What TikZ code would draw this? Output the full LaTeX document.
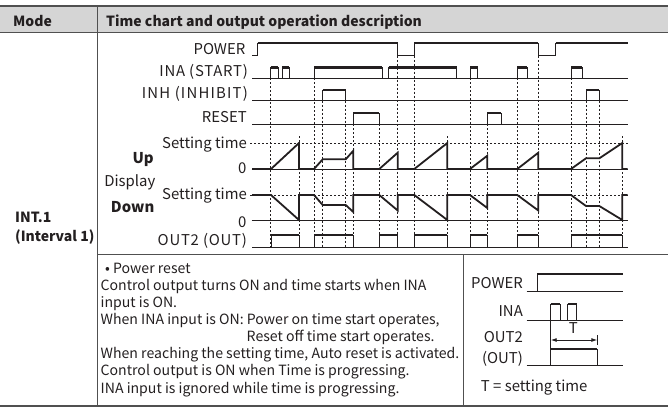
\documentclass[tikz,border=0pt]{standalone}
\usepackage{fontspec}
\setmainfont{Noto Sans CJK KR}
\usetikzlibrary{arrows.meta}
\definecolor{ink}{HTML}{231F20}
\definecolor{hdr}{HTML}{D5D5D5}
\definecolor{rulec}{HTML}{505050}
\newcommand\pulserow[3]{%
  \draw[base] (252,#1) -- (627.5,#1);
  \foreach \a/\b in {#3} {\draw[base] (\a,#1) -- (\a,#2) -- (\b,#2) -- (\b,#1); \draw[hi] (\a,#2) -- (\b,#2);}
}
\begin{document}
\begin{tikzpicture}[x=1pt,y=-1pt,
  lbl/.style={font=\fontsize{14.9}{18}\selectfont, text=ink, inner sep=0pt, anchor=base east},
  wlbl/.style={lbl, font=\fontsize{14.9}{18}\selectfont\addfontfeatures{LetterSpace=5}},
  xlbl/.style={lbl, font=\fontsize{14.9}{18}\selectfont\addfontfeatures{LetterSpace=8}},
  txt/.style={font=\fontsize{14.1}{18}\selectfont, text=ink, inner sep=0pt, anchor=base west},
  hd/.style={font=\fontsize{14}{18}\selectfont\bfseries, text=ink, inner sep=0pt, anchor=base west},
  base/.style={draw=ink, line width=0.9pt},
  hi/.style={draw=ink, line width=2.3pt},
  sig/.style={draw=ink, line width=1.8pt, line join=miter},
  dsh/.style={draw=ink, line width=0.8pt, dash pattern=on 2pt off 2pt},
  tbl/.style={draw=rulec, line width=1pt}]
\useasboundingbox (0,0) rectangle (668,416);
% ---------- table ----------
\fill[hdr] (0,6) rectangle (668,32);
\draw[tbl, line width=1.4pt] (0,6) -- (668,6);
\draw[tbl] (0,32) -- (668,32);
\draw[tbl] (97,6) -- (97,406);
\draw[tbl] (97,254) -- (668,254);
\draw[tbl] (463.5,254) -- (463.5,406);
\draw[tbl, line width=1.4pt] (0,406) -- (668,406);
\node[hd] (mode) at (13,26) {Mode};
\node[hd] (tch) at (106,26) {Time chart and output operation description};
\node[hd] (int1) at (15,222.5) {INT.1};
\node[hd] (int1b) at (15,241) {(Interval 1)};
% ---------- chart labels ----------
\node[lbl] (pw) at (245.5,54.5) {POWER};
\node[wlbl] (ina) at (248,76) {INA (START)};
\node[xlbl] (inh) at (248,98.5) {INH (INHIBIT)};
\node[lbl] (rst) at (247,122) {RESET};
\node[lbl] (stu) at (247,148) {Setting time};
\node[lbl] (zu) at (246.5,173.5) {0};
\node[lbl] (up) at (154,163) {\bfseries Up};
\node[lbl] (disp) at (155.5,186) {Display};
\node[lbl] (std) at (247,199.5) {Setting time};
\node[lbl] (dn) at (154.5,212) {\bfseries Down};
\node[lbl] (zd) at (246.5,227) {0};
\node[wlbl] (out) at (247,245.5) {OUT2 (OUT)};
% ---------- dashed guides ----------
\foreach \x/\y in {270.7/78, 299/136, 314/78, 322.7/100.5, 345.7/100.5, 353.3/124, 379.3/124,
  397.7/55.5, 414.3/55.5, 447.3/136, 470/78, 487.3/124, 517.3/78, 538.3/55.5, 571/78,
  586/100.5, 599.3/100.5, 622.3/136}
  \draw[dsh] (\x,\y) -- (\x,247);
\draw[dsh] (250,143) -- (627.5,143);
\draw[dsh] (250,195) -- (627.5,195);
% ---------- POWER ----------
\draw[base] (252,55.5) -- (257.7,55.5) -- (257.7,43) -- (397.7,43) -- (397.7,55.5) -- (414.3,55.5)
  -- (414.3,43) -- (538.3,43) -- (538.3,55.5) -- (555.7,55.5) -- (555.7,43) -- (627.5,43);
\draw[hi] (257.7,43) -- (397.7,43) (414.3,43) -- (538.3,43) (555.7,43) -- (627.5,43);
% ---------- inputs ----------
\pulserow{78}{67.5}{270.7/278.3, 282.3/289.3, 314/382, 388.7/456.7, 470/477.7, 517.3/527.3, 571/582.3}
\pulserow{100.5}{90}{322.7/345.7, 586/599.3}
\pulserow{124}{113}{353.3/379.3, 487.3/501}
% ---------- Up display ----------
\draw[base] (251.7,169) -- (627.5,169);
\draw[sig] (252,169) -- (271,169) -- (299,143) -- (299,169) -- (314,169) -- (322.7,159.3)
  -- (345.7,159.3) -- (353.3,150.7) -- (353.3,169) -- (379.3,169) -- (397.7,152.7) -- (397.7,169)
  -- (414.3,169) -- (447.3,143) -- (447.3,169) -- (470,169) -- (487.3,155.7) -- (487.3,169)
  -- (517.3,169) -- (538.3,152.7) -- (538.3,169) -- (571,169) -- (586,158.3) -- (599.3,158.3)
  -- (622.3,143) -- (622.3,169) -- (627.5,169);
% ---------- Down display ----------
\draw[base] (251.7,220) -- (627.5,220);
\draw[sig] (252,195) -- (271,195) -- (299,220) -- (299,195) -- (314,195) -- (322.7,205)
  -- (345.7,205) -- (353.3,212) -- (353.3,195) -- (379.3,195) -- (397.7,210.5) -- (397.7,195)
  -- (414.3,195) -- (447.3,220) -- (447.3,195) -- (470,195) -- (487.3,208) -- (487.3,195)
  -- (517.3,195) -- (538.3,210.5) -- (538.3,195) -- (571,195) -- (586,206) -- (599.3,206)
  -- (622.3,220) -- (622.3,195) -- (627.5,195);
% ---------- OUT2 ----------
\pulserow{247}{235}{271/299, 314/353.3, 379.3/397.7, 414.3/447.3, 470/487.3, 517.3/538.3, 571/622.3}
% ---------- description ----------
\node[txt] (d1) at (105,273.3) {• Power reset};
\node[txt] (d2) at (100.5,290.4) {Control output turns ON and time starts when INA};
\node[txt] (d3) at (100.5,307.5) {input is ON.};
\node[txt] (d4) at (100.5,324.6) {When INA input is ON: Power on time start operates,};
\node[txt] (d5) at (246.5,341.7) {Reset off time start operates.};
\node[txt] (d6) at (100.5,358.8) {When reaching the setting time, Auto reset is activated.};
\node[txt] (d7) at (100.5,375.9) {Control output is ON when Time is progressing.};
\node[txt] (d8) at (100.5,393) {INA input is ignored while time is progressing.};
% ---------- small chart ----------
\node[lbl] (spw) at (523,288.5) {POWER};
\node[lbl] (sina) at (523,316.5) {INA};
\node[lbl] (sout) at (523,342.3) {OUT2};
\node[lbl] (sout2) at (523,363.3) {(OUT)};
\node[txt, font=\fontsize{14.9}{18}\selectfont] (tdef) at (480.7,391.7) {T = setting time};
\draw[base] (526.7,291.7) -- (623.3,291.7);
\draw[base] (537.3,291.7) -- (537.3,274);
\draw[hi] (537.3,274) -- (623.3,274);
\draw[base] (526.7,320) -- (623.3,320);
\foreach \a/\b in {550.7/560, 567.7/576.7} {\draw[base] (\a,320) -- (\a,304) -- (\b,304) -- (\b,320); \draw[hi] (\a,304) -- (\b,304);}
\draw[base] (526.7,365.7) -- (623.3,365.7);
\draw[base] (550.7,304) -- (550.7,365.7);
\draw[base] (597.3,365.7) -- (597.3,349.3);
\draw[hi] (550.7,349.3) -- (597.3,349.3);
\draw[base] (597.3,335) -- (597.3,345);
\coordinate (ta) at (550.7,340);
\coordinate (tb) at (597.3,340);
\draw[base, {Latex[length=6pt,width=4pt]}-{Latex[length=6pt,width=4pt]}] (ta) -- (tb);
\node[font=\fontsize{14.9}{18}\selectfont, text=ink, inner sep=0pt, anchor=base] (tl) at (573.3,333.3) {T};
\end{tikzpicture}
\end{document}
